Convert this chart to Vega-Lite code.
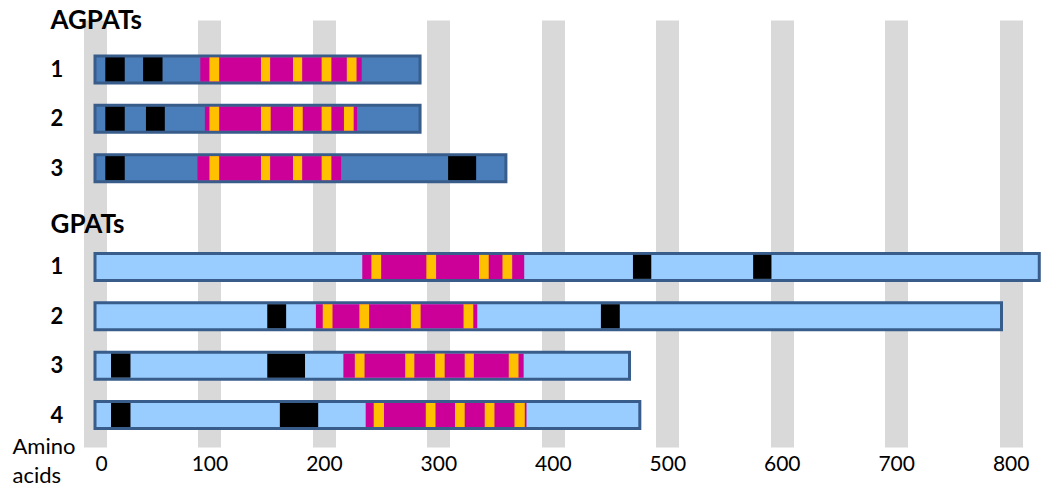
{
  "$schema": "https://vega.github.io/schema/vega-lite/v6.json",
  "autosize": "none",
  "width": 950,
  "height": 427,
  "padding": {"left": 95, "top": 20, "right": 5, "bottom": 51},
  "background": "white",
  "config": {"view": {"stroke": null}, "font": "Lato"},
  "data": {
    "values": [
      {"row": "A1", "family": "AGPAT", "type": "protein", "start": 0, "end": 284},
      {"row": "A1", "family": "AGPAT", "type": "tm", "start": 9, "end": 26},
      {"row": "A1", "family": "AGPAT", "type": "tm", "start": 42, "end": 59},
      {"row": "A1", "family": "AGPAT", "type": "domain", "start": 92, "end": 233},
      {"row": "A1", "family": "AGPAT", "type": "motif", "start": 100, "end": 108.5},
      {"row": "A1", "family": "AGPAT", "type": "motif", "start": 145, "end": 153},
      {"row": "A1", "family": "AGPAT", "type": "motif", "start": 173, "end": 181},
      {"row": "A1", "family": "AGPAT", "type": "motif", "start": 198, "end": 206.5},
      {"row": "A1", "family": "AGPAT", "type": "motif", "start": 220, "end": 228.5},

      {"row": "A2", "family": "AGPAT", "type": "protein", "start": 0, "end": 284},
      {"row": "A2", "family": "AGPAT", "type": "tm", "start": 9, "end": 26},
      {"row": "A2", "family": "AGPAT", "type": "tm", "start": 44.5, "end": 61},
      {"row": "A2", "family": "AGPAT", "type": "domain", "start": 96, "end": 229},
      {"row": "A2", "family": "AGPAT", "type": "motif", "start": 100, "end": 108.5},
      {"row": "A2", "family": "AGPAT", "type": "motif", "start": 145, "end": 153.5},
      {"row": "A2", "family": "AGPAT", "type": "motif", "start": 173, "end": 181.5},
      {"row": "A2", "family": "AGPAT", "type": "motif", "start": 198, "end": 206.5},
      {"row": "A2", "family": "AGPAT", "type": "motif", "start": 217.5, "end": 226},

      {"row": "A3", "family": "AGPAT", "type": "protein", "start": 0, "end": 359},
      {"row": "A3", "family": "AGPAT", "type": "tm", "start": 9, "end": 26},
      {"row": "A3", "family": "AGPAT", "type": "tm", "start": 308.5, "end": 333},
      {"row": "A3", "family": "AGPAT", "type": "domain", "start": 89.5, "end": 215},
      {"row": "A3", "family": "AGPAT", "type": "motif", "start": 100, "end": 108.5},
      {"row": "A3", "family": "AGPAT", "type": "motif", "start": 145, "end": 153},
      {"row": "A3", "family": "AGPAT", "type": "motif", "start": 173, "end": 181},
      {"row": "A3", "family": "AGPAT", "type": "motif", "start": 198, "end": 206.5},

      {"row": "G1", "family": "GPAT", "type": "protein", "start": 0, "end": 825},
      {"row": "G1", "family": "GPAT", "type": "domain", "start": 233.5, "end": 375},
      {"row": "G1", "family": "GPAT", "type": "motif", "start": 241.5, "end": 250},
      {"row": "G1", "family": "GPAT", "type": "motif", "start": 289.5, "end": 298},
      {"row": "G1", "family": "GPAT", "type": "motif", "start": 335.5, "end": 344},
      {"row": "G1", "family": "GPAT", "type": "motif", "start": 356, "end": 364.5},
      {"row": "G1", "family": "GPAT", "type": "tm", "start": 470, "end": 486},
      {"row": "G1", "family": "GPAT", "type": "tm", "start": 575, "end": 591},

      {"row": "G2", "family": "GPAT", "type": "protein", "start": 0, "end": 792},
      {"row": "G2", "family": "GPAT", "type": "tm", "start": 150.5, "end": 167},
      {"row": "G2", "family": "GPAT", "type": "tm", "start": 442, "end": 458.5},
      {"row": "G2", "family": "GPAT", "type": "domain", "start": 193, "end": 334},
      {"row": "G2", "family": "GPAT", "type": "motif", "start": 199, "end": 207.5},
      {"row": "G2", "family": "GPAT", "type": "motif", "start": 231, "end": 239.5},
      {"row": "G2", "family": "GPAT", "type": "motif", "start": 276, "end": 284.5},
      {"row": "G2", "family": "GPAT", "type": "motif", "start": 322, "end": 330.5},

      {"row": "G3", "family": "GPAT", "type": "protein", "start": 0, "end": 467},
      {"row": "G3", "family": "GPAT", "type": "tm", "start": 14, "end": 31},
      {"row": "G3", "family": "GPAT", "type": "tm", "start": 150.5, "end": 183.5},
      {"row": "G3", "family": "GPAT", "type": "domain", "start": 217, "end": 374.5},
      {"row": "G3", "family": "GPAT", "type": "motif", "start": 227, "end": 235.5},
      {"row": "G3", "family": "GPAT", "type": "motif", "start": 271, "end": 279},
      {"row": "G3", "family": "GPAT", "type": "motif", "start": 297, "end": 305.5},
      {"row": "G3", "family": "GPAT", "type": "motif", "start": 323, "end": 331},
      {"row": "G3", "family": "GPAT", "type": "motif", "start": 361.5, "end": 370},

      {"row": "G4", "family": "GPAT", "type": "protein", "start": 0, "end": 476},
      {"row": "G4", "family": "GPAT", "type": "tm", "start": 14, "end": 31},
      {"row": "G4", "family": "GPAT", "type": "tm", "start": 161.5, "end": 195},
      {"row": "G4", "family": "GPAT", "type": "domain", "start": 236.5, "end": 377},
      {"row": "G4", "family": "GPAT", "type": "motif", "start": 243.5, "end": 252.5},
      {"row": "G4", "family": "GPAT", "type": "motif", "start": 289, "end": 297.5},
      {"row": "G4", "family": "GPAT", "type": "motif", "start": 314.5, "end": 323},
      {"row": "G4", "family": "GPAT", "type": "motif", "start": 340.5, "end": 349},
      {"row": "G4", "family": "GPAT", "type": "motif", "start": 366.5, "end": 375.5}
    ]
  },
  "encoding": {
    "y": {
      "field": "row",
      "type": "nominal",
      "scale": {
        "type": "point",
        "domain": ["AGPATs", "A1", "A2", "A3", "GPATs", "G1", "G2", "G3", "G4"],
        "padding": 0.324,
        "align": 0
      },
      "axis": {
        "title": null,
        "domain": false,
        "ticks": false,
        "grid": false,
        "zindex": 1,
        "labelAlign": "left",
        "labelBaseline": "middle",
        "labelPadding": 45,
        "labelFont": "Lato",
        "labelFontWeight": "bold",
        "labelColor": "#000000",
        "labelExpr": "length(datum.value) == 2 ? slice(datum.value, 1) : datum.value",
        "labelFontSize": {"condition": {"test": "length(datum.value) > 2", "value": 26}, "value": 22},
        "labelOffset": {"condition": {"test": "datum.value == 'GPATs'", "value": 7}, "value": 0}
      }
    },
    "x": {
      "field": "start",
      "type": "quantitative",
      "scale": {"domain": [0, 830], "nice": false, "zero": false},
      "axis": {
        "values": [0, 100, 200, 300, 400, 500, 600, 700, 800],
        "grid": true,
        "gridWidth": 23,
        "gridColor": "#d9d9d9",
        "domain": false,
        "ticks": false,
        "labelFont": "Lato",
        "labelFontSize": 21,
        "labelColor": "#000000",
        "labelPadding": 6,
        "title": ["Amino", "acids"],
        "titleFont": "Lato",
        "titleFontSize": 22,
        "titleFontWeight": "normal",
        "titleColor": "#000000",
        "titleAlign": "left",
        "titleBaseline": "top",
        "titleX": -83,
        "titleY": -11,
        "titleLineHeight": 29
      }
    },
    "x2": {"field": "end"}
  },
  "layer": [
    {
      "transform": [{"filter": "datum.type == 'protein'"}],
      "mark": {"type": "bar", "height": 27, "stroke": "#385d8a", "strokeWidth": 3},
      "encoding": {
        "color": {
          "field": "family",
          "type": "nominal",
          "scale": {"domain": ["AGPAT", "GPAT"], "range": ["#4a7ebb", "#99ccff"]},
          "legend": null
        }
      }
    },
    {
      "transform": [{"filter": "datum.type == 'domain'"}],
      "mark": {"type": "bar", "height": 24, "color": "#cc0099"}
    },
    {
      "transform": [{"filter": "datum.type == 'motif' || datum.type == 'tm'"}],
      "mark": {"type": "bar", "height": 24},
      "encoding": {
        "color": {
          "field": "type",
          "type": "nominal",
          "scale": {"domain": ["motif", "tm"], "range": ["#ffc000", "#000000"]},
          "legend": null
        }
      }
    }
  ],
  "resolve": {"scale": {"color": "independent"}}
}
